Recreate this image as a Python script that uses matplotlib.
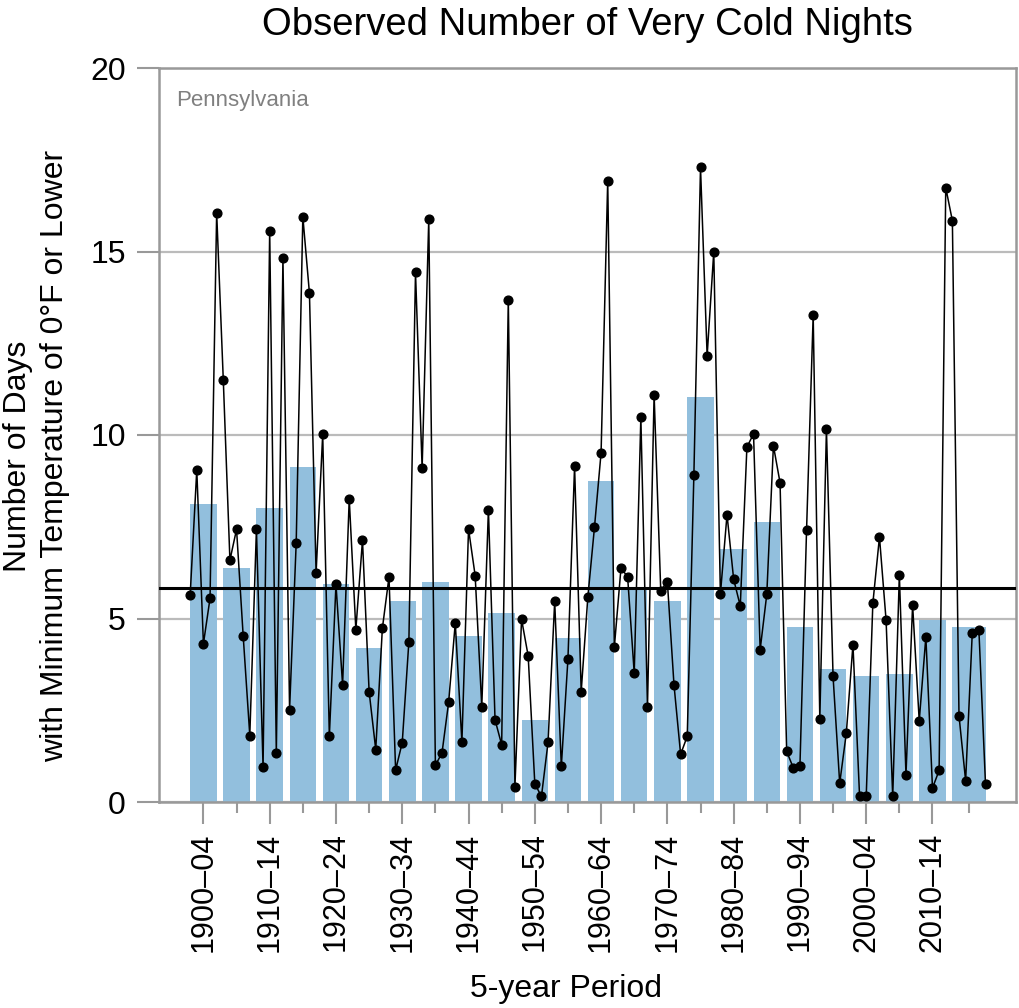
import matplotlib
matplotlib.use("Agg")
import matplotlib.pyplot as plt

plt.rcParams['font.family'] = ['Liberation Sans', 'DejaVu Sans']

years = list(range(1900, 2021))
annual_days = [
    5.63, 9.05, 4.31, 5.55, 16.06, 11.5, 6.59, 7.43, 4.53, 1.81,
    7.44, 0.95, 15.57, 1.33, 14.81, 2.52, 7.06, 15.95, 13.86, 6.24,
    10.02, 1.79, 5.93, 3.19, 8.26, 4.70, 7.13, 3.01, 1.43, 4.73,
    6.13, 0.87, 1.62, 4.37, 14.43, 9.10, 15.88, 1.00, 1.34, 2.72,
    4.88, 1.63, 7.44, 6.17, 2.60, 7.97, 2.24, 1.56, 13.69, 0.42,
    4.98, 3.98, 0.50, 0.15, 1.63, 5.47, 0.97, 3.90, 9.15, 3.01,
    5.58, 7.48, 9.52, 16.93, 4.22, 6.37, 6.14, 3.51, 10.48, 2.60,
    11.10, 5.76, 6.00, 3.19, 1.30, 1.79, 8.91, 17.29, 12.16, 14.99,
    5.66, 7.83, 6.07, 5.34, 9.67, 10.03, 4.15, 5.66, 9.71, 8.70,
    1.38, 0.93, 0.97, 7.41, 13.27, 2.26, 10.16, 3.42, 0.51, 1.88,
    4.29, 0.15, 0.15, 5.41, 7.22, 4.95, 0.15, 6.19, 0.74, 5.37,
    2.21, 4.50, 0.38, 0.86, 16.74, 15.84, 2.35, 0.58, 4.60, 4.69,
    0.48,
]

period_start = list(range(1900, 2020, 5))
period_end = [s + 4 for s in period_start[:-1]] + [2020]
period_avg = [
    8.12, 6.37, 8.01, 9.12, 5.95, 4.19, 5.49, 6.00,
    4.53, 5.15, 2.24, 4.48, 8.74, 5.82, 5.47, 11.03,
    6.90, 7.63, 4.78, 3.63, 3.44, 3.48, 4.95, 4.76,
]
period_labels = [f"{s}\u2013{str(s + 4)[-2:]}" if i % 2 == 0 else ""
                 for i, s in enumerate(period_start)]

long_term_avg = 5.83

fig = plt.figure(figsize=(10.19, 10.08), dpi=100)
ax = fig.add_axes([159 / 1019, 1 - 802 / 1008, (1016 - 159) / 1019, (802 - 68) / 1008])

gray = '#999999'
ax.set_axisbelow(True)
ax.yaxis.grid(True, color='#bbbbbb', linewidth=1.6)
ax.xaxis.grid(False)

widths = [e - s for s, e in zip(period_start, period_end)]
ax.bar(period_start, period_avg, width=widths, align='edge', color='#92bfdd',
       edgecolor='none', zorder=2)

ax.axhline(long_term_avg, color='black', linewidth=2.2, zorder=3)

ax.plot(years, annual_days, color='black', linewidth=1.1, marker='o',
        markersize=6.3, zorder=4)

ax.set_xlim(1895.3, 2024.6)
ax.set_ylim(0, 20)
ax.set_yticks([0, 5, 10, 15, 20])
ax.tick_params(axis='y', labelsize=23, length=16, width=1.5, color=gray, pad=8)

centers = [(s + e) / 2 for s, e in zip(period_start, period_end)]
ax.set_xticks(centers)
ax.set_xticklabels(period_labels, rotation=90, fontsize=22)
ax.tick_params(axis='x', length=16, width=1.5, color=gray, pad=6)
for i, t in enumerate(ax.xaxis.get_major_ticks()):
    if i % 2 == 1:
        t.tick1line.set_markersize(8)

for sp in ax.spines.values():
    sp.set_color(gray)
    sp.set_linewidth(1.8)

ax.set_title('Observed Number of Very Cold Nights', fontsize=27.5, pad=24)
ax.set_ylabel('Number of Days\nwith Minimum Temperature of 0\u00b0F or Lower',
              fontsize=23, linespacing=1.3)
ax.yaxis.set_label_coords(-0.104, 0.471)
ax.set_xlabel('5-year Period', fontsize=23)
ax.xaxis.set_label_coords(0.475, -0.235)

ax.text(0.02, 0.97, 'Pennsylvania', transform=ax.transAxes, fontsize=16,
        color='#808080', va='top', ha='left')

fig.savefig('out.png', dpi=100)
